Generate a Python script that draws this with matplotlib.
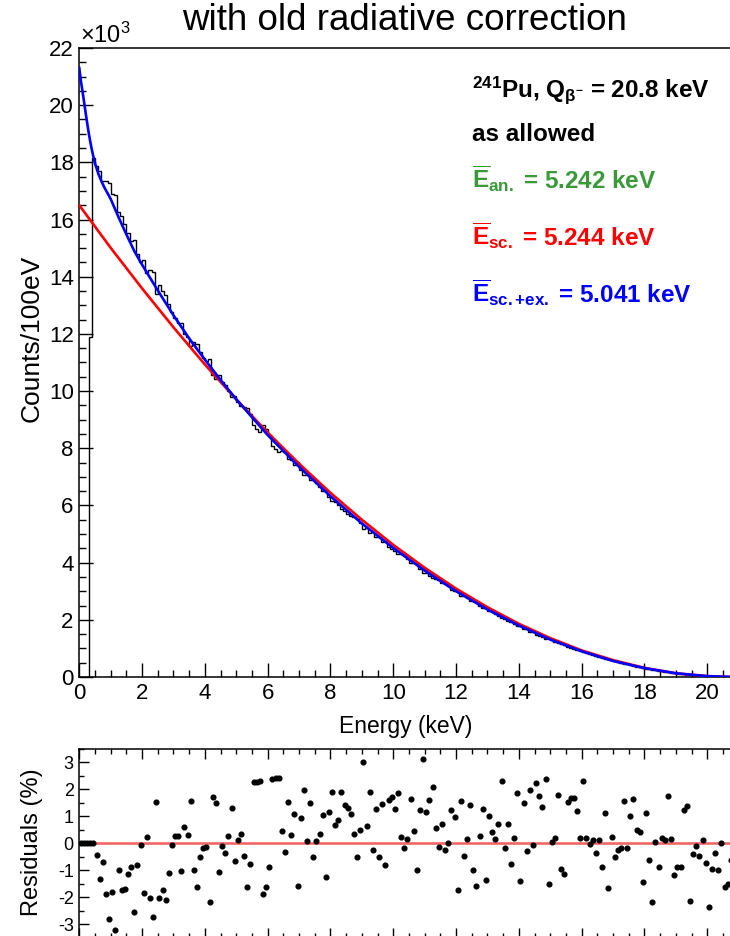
import numpy as np
import matplotlib
matplotlib.use("Agg")
import matplotlib.pyplot as plt
from matplotlib.ticker import MultipleLocator

plt.rcParams['font.family'] = ['Liberation Sans', 'DejaVu Sans']
plt.rcParams['mathtext.fontset'] = 'custom'
plt.rcParams['mathtext.rm'] = 'Liberation Sans'
plt.rcParams['mathtext.it'] = 'Liberation Sans:italic'
plt.rcParams['mathtext.bf'] = 'Liberation Sans:bold'
plt.rcParams['axes.unicode_minus'] = False

# ---------------- data (counts in units of 10^3 per 100 eV) ----------------
bin_width_keV = 0.1
hist_counts = [
    0.0, 0.0, 0.0, 11.90, 18.15, 17.88, 17.71, 17.36, 17.34, 17.28,
    16.88, 16.87, 16.25, 16.12, 15.86, 15.54, 15.26, 15.28, 14.81, 14.51,
    14.60, 14.12, 14.25, 14.17, 13.40, 13.71, 13.49, 13.36, 13.05, 12.75,
    12.54, 12.37, 12.37, 12.01, 11.89, 11.57, 11.72, 11.64, 11.36, 11.17,
    11.04, 11.12, 10.56, 10.44, 10.58, 10.33, 10.22, 10.02, 9.78, 9.84,
    9.63, 9.48, 9.43, 9.41, 9.21, 8.81, 8.69, 8.56, 8.81, 8.66,
    8.48, 8.09, 7.98, 7.87, 7.92, 7.87, 7.61, 7.60, 7.43, 7.52,
    7.23, 7.05, 7.08, 6.88, 6.91, 6.77, 6.64, 6.50, 6.55, 6.29,
    6.15, 6.13, 6.02, 5.86, 5.80, 5.71, 5.63, 5.58, 5.54, 5.39,
    5.17, 5.21, 5.05, 5.07, 4.91, 4.91, 4.73, 4.75, 4.56, 4.47,
    4.41, 4.30, 4.29, 4.23, 4.14, 4.00, 3.97, 3.94, 3.78, 3.64,
    3.64, 3.55, 3.46, 3.44, 3.39, 3.29, 3.25, 3.17, 3.06, 3.00,
    3.02, 2.85, 2.85, 2.76, 2.66, 2.66, 2.62, 2.50, 2.42, 2.42,
    2.31, 2.26, 2.21, 2.14, 2.05, 2.04, 1.97, 1.94, 1.87, 1.79,
    1.79, 1.69, 1.67, 1.58, 1.57, 1.48, 1.44, 1.40, 1.34, 1.35,
    1.28, 1.24, 1.18, 1.17, 1.13, 1.06, 1.01, 0.98, 0.94, 0.91,
    0.86, 0.84, 0.81, 0.77, 0.74, 0.70, 0.68, 0.63, 0.62, 0.58,
    0.55, 0.52, 0.49, 0.458, 0.440, 0.409, 0.382, 0.362, 0.340, 0.323,
    0.293, 0.277, 0.261, 0.235, 0.219, 0.198, 0.181, 0.162, 0.149, 0.136,
    0.122, 0.108, 0.093, 0.082, 0.073, 0.062, 0.052, 0.044, 0.036, 0.029,
    0.023, 0.017, 0.012, 0.008, 0.005, 0.003, 0.001, 0.000, 0.000,
]

residuals_pct = [
    0.0, 0.0, 0.0, 0.0, 0.0, -0.45, -1.32, -0.68, -1.87, -2.82,
    -1.80, -3.23, -1.01, -1.72, -1.69, -1.14, -0.88, -2.56, -0.81, -0.06,
    -1.85, 0.22, -2.04, -2.75, 1.55, -2.05, -1.74, -2.11, -1.12, -0.07,
    0.26, 0.26, -1.04, 0.62, 0.29, 1.58, -1.01, -1.64, -0.52, -0.16,
    -0.14, -2.19, 1.72, 1.50, -1.08, -0.09, -0.35, 0.27, 1.31, -0.67,
    0.11, 0.36, -0.49, -1.63, -0.78, 2.26, 2.26, 2.30, -1.90, -1.62,
    -0.88, 2.40, 2.41, 2.44, 0.47, -0.34, 1.52, 0.29, 1.09, -1.58,
    0.95, 1.97, 0.09, 1.48, -0.52, 0.09, 0.36, 1.05, -1.25, 1.15,
    1.92, 0.69, 0.85, 1.89, 1.43, 1.32, 1.07, 0.34, -0.52, 0.51,
    3.02, 0.63, 1.91, -0.25, 1.28, -0.50, 1.45, -0.80, 1.61, 1.73,
    1.27, 1.86, 0.22, -0.18, 0.15, 1.64, 0.46, -0.98, 1.22, 3.13,
    1.16, 1.62, 2.09, 0.57, -0.13, 0.71, -0.25, 0.02, 1.25, 0.96,
    -1.74, 1.58, -0.47, 0.15, 1.41, -1.00, -1.58, 0.28, 1.28, -1.38,
    1.00, 0.41, 0.16, 0.72, 2.30, -0.18, 0.72, -0.76, 0.20, 1.88,
    -1.40, 1.49, -0.29, 1.96, -0.07, 2.23, 1.77, 1.35, 2.40, -1.51,
    0.06, 0.19, 1.81, -0.94, -1.16, 1.52, 1.67, 1.67, 1.20, 0.21,
    2.30, 0.19, -0.04, 0.12, -0.35, 0.12, -0.88, 1.13, -1.67, 0.25,
    -0.51, -0.26, -0.16, 1.56, -0.16, 1.02, 1.64, 0.50, 0.41, -1.44,
    1.11, -0.64, -2.20, 0.06, -0.89, 0.19, 0.12, 1.76, 0.15, -1.19,
    -0.87, -0.90, 1.24, 1.39, -2.14, -0.40, -0.09, -0.46, 0.11, -0.74,
    -2.35, -0.94, -0.36, -0.99, 0.01, -1.61, -1.53, -0.62, 0.00,
]

# fitted spectra (units of 10^3 / 100 eV)
sc_energy = [0, 1, 2, 3, 4, 5, 6, 7, 8, 9, 10, 11, 12, 13, 14, 15, 16, 17,
             18, 19, 20, 20.8]
sc_counts = [16.50, 15.01, 13.59, 12.23, 10.93, 9.71, 8.55, 7.46, 6.44, 5.50,
             4.62, 3.82, 3.09, 2.44, 1.86, 1.36, 0.93, 0.59, 0.32, 0.13,
             0.03, 0.0]

scex_energy = [0, 0.05, 0.1, 0.15, 0.2, 0.25, 0.3, 0.35, 0.4, 0.45, 0.5, 0.6,
               0.7, 0.8, 1.0, 1.25, 1.5, 1.75, 2.0, 2.5, 3.0, 3.5, 4.0, 4.5,
               5, 6, 7, 8, 9, 10, 11, 12, 13, 14, 15, 16, 17, 18, 19, 20, 20.8]
scex_counts = [21.30, 20.85, 20.50, 20.13, 19.75, 19.38, 19.03, 18.72, 18.44,
               18.19, 17.97, 17.62, 17.35, 17.12, 16.72, 16.08, 15.48, 14.90,
               14.42, 13.52, 12.65, 11.84, 11.10, 10.39, 9.71, 8.46, 7.35,
               6.32, 5.37, 4.51, 3.72, 3.00, 2.36, 1.80, 1.31, 0.90, 0.56,
               0.31, 0.13, 0.03, 0.0]

x_ticks = [0, 2, 4, 6, 8, 10, 12, 14, 16, 18, 20]
y_ticks = [0, 2, 4, 6, 8, 10, 12, 14, 16, 18, 20, 22]
res_ticks = [-3, -2, -1, 0, 1, 2, 3]

nbins = len(hist_counts)
edges = np.arange(nbins + 1) * bin_width_keV
centers = edges[:-1] + bin_width_keV / 2

# ---------------- figure ----------------
W, H = 730, 936
fig = plt.figure(figsize=(W / 100, H / 100), dpi=100)

def px_axes(left, top, right, bottom):
    return fig.add_axes([left / W, 1 - bottom / H, (right - left) / W, (bottom - top) / H])

def fx(px):
    return px / W

def fy(py):
    return 1 - py / H

ax = px_axes(79.3, 48, 732.4, 677)
ax2 = px_axes(79.3, 749, 732.4, 937.5)

for a in (ax, ax2):
    for s in a.spines.values():
        s.set_linewidth(1.1)
    a.set_xlim(0, 20.8)
    a.xaxis.set_minor_locator(MultipleLocator(0.5))
    a.yaxis.set_minor_locator(MultipleLocator(0.5))

# main panel
ax.stairs(hist_counts, edges, color='black', lw=1.0, zorder=2)
ax.plot(sc_energy, sc_counts, color='#ff0000', lw=1.9, zorder=3)
ax.plot(scex_energy, scex_counts, color='#0000ff', lw=1.9, zorder=4)
ax.set_ylim(0, 22)
ax.set_xticks(x_ticks)
ax.set_yticks(y_ticks)
ax.tick_params(which='both', direction='in', top=False, right=False,
               labelsize=16, width=1.0, pad=4)
ax.tick_params(which='major', length=10)
ax.tick_params(which='minor', length=5)
fig.text(fx(406), fy(727), 'Energy (keV)', fontsize=16.5, ha='center', va='center')
fig.text(fx(32), fy(338), 'Counts/100eV', fontsize=19, rotation=90,
         ha='center', va='center')
fig.text(fx(80), fy(43), r'$\times$10$^{3}$', fontsize=17,
         ha='left', va='baseline')

fig.text(fx(405), fy(20), 'with old radiative correction', fontsize=26.5,
         ha='center', va='center')

tx = fx(472)
fs_ann = 17.5
fig.text(tx, fy(97), r'$^{\mathbf{241}}$Pu, Q$_{\mathbf{\beta^{-}}}$ = 20.8 keV',
         fontsize=fs_ann, fontweight='bold', color='black')
fig.text(tx, fy(141), 'as allowed', fontsize=fs_ann, fontweight='bold', color='black')
fig.text(tx, fy(188), r'$\overline{\mathbf{E}}_{\mathbf{an.}}$ = 5.242 keV',
         fontsize=fs_ann, fontweight='bold', color='#3a9a3a')
fig.text(tx, fy(245), r'$\overline{\mathbf{E}}_{\mathbf{sc.}}$ = 5.244 keV',
         fontsize=fs_ann, fontweight='bold', color='#ff0000')
fig.text(tx, fy(302), r'$\overline{\mathbf{E}}_{\mathbf{sc.{+}ex.}}$ = 5.041 keV',
         fontsize=fs_ann, fontweight='bold', color='#0000ff')

# residual panel
ax2.axhline(0, color='#f26666', lw=1.9, zorder=1)
ax2.plot(centers, residuals_pct, 'o', ms=3.4, color='black', zorder=3, clip_on=True)
ax2.set_ylim(-3.5, 3.5)
ax2.set_xticks(x_ticks)
ax2.set_yticks(res_ticks)
ax2.tick_params(which='both', direction='in', top=True, bottom=True, right=False,
                labelbottom=False, labelsize=13, width=1.0, pad=4)
ax2.tick_params(which='major', length=7)
ax2.tick_params(which='minor', length=3.5)
fig.text(fx(32), fy(842), 'Residuals (%)', fontsize=17, rotation=90,
         ha='center', va='center')

fig.savefig('out.png', dpi=100)
